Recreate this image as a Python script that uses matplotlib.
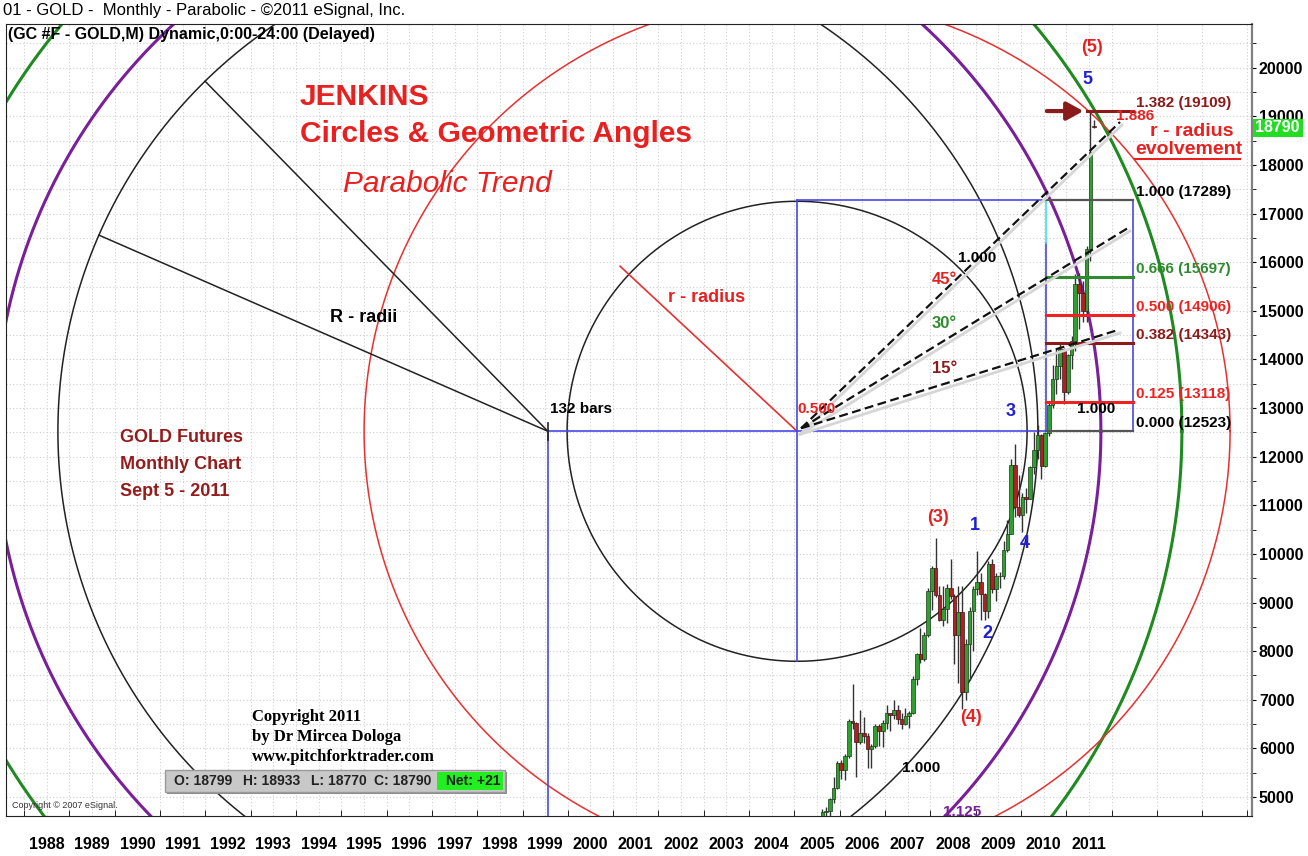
import numpy as np
import matplotlib.pyplot as plt
from matplotlib.patches import Rectangle

plt.rcParams['font.family'] = ['Liberation Sans', 'DejaVu Sans']

W, H = 1308, 856

# axis labels
years = list(range(1988, 2012))
price_ticks = list(range(5000, 20001, 1000))

# monthly gold futures (price x10), Sep 2005 .. Sep 2011
first_year, first_month = 2005, 9
opens = [4335, 4693, 4708, 4957,
         5190, 5696, 5560, 5840, 6560, 6530, 6140, 6320, 6260, 5990, 6040, 6460,
         6350, 6520, 6720, 6680, 6800, 6600, 6500, 6660, 6730, 7430, 7940, 7830,
         8340, 9230, 9710, 9160, 8650, 8870, 9300, 9140, 8330, 8800, 7170, 8140,
         8820, 9270, 9420, 9170, 8830, 9800, 9270, 9540, 9550, 10080, 10400, 11820,
         10960, 10810, 11180, 11130, 11790, 12140, 12450, 11800, 12480, 13070, 13590, 13860,
         14210, 13330, 14090, 14390, 15560, 15360, 15000, 16280, 18799]
highs = [4760, 4790, 4970, 5410,
         5750, 5760, 5880, 6600, 7320, 6550, 6800, 6650, 6320, 6100, 6500, 6500,
         6590, 6900, 6720, 6990, 6900, 6730, 6840, 6770, 7480, 7960, 8480, 8400,
         9300, 9760, 10330, 9350, 9340, 9390, 9900, 9170, 9350, 9350, 8250, 8900,
         9350, 10070, 9600, 9200, 9850, 9890, 9600, 9620, 10270, 10700, 11950, 12270,
         11620, 11250, 11350, 11800, 12500, 12660, 12470, 12500, 13140, 13880, 14240, 14310,
         14240, 14120, 14480, 15750, 15770, 15610, 16330, 19110, 18933]
lows = [4325, 4600, 4560, 4880,
        5160, 5380, 5360, 5800, 6400, 5420, 6100, 6120, 5600, 5600, 6000, 6060,
        6030, 6400, 6360, 6600, 6500, 6400, 6480, 6420, 6700, 7300, 7760, 7800,
        8300, 8850, 9120, 8620, 8510, 8570, 9070, 7740, 7350, 6810, 7000, 7400,
        8000, 9150, 8650, 8650, 8680, 9200, 9040, 9300, 9480, 10030, 10400, 10750,
        10750, 10450, 10850, 11120, 11640, 11960, 11550, 11780, 12420, 13000, 13300, 13600,
        13090, 13300, 13810, 14170, 14620, 14780, 14780, 16030, 18770]
closes = [4693, 4708, 4957, 5190,
          5696, 5560, 5840, 6560, 6530, 6140, 6320, 6260, 5990, 6040, 6460, 6350,
          6520, 6720, 6680, 6800, 6600, 6500, 6660, 6730, 7430, 7940, 7830, 8340,
          9230, 9710, 9160, 8650, 8870, 9300, 9140, 8330, 8800, 7170, 8140, 8820,
          9270, 9420, 9170, 8830, 9800, 9270, 9540, 9550, 10080, 10400, 11820, 10960,
          10810, 11180, 11130, 11790, 12140, 12450, 11800, 12480, 13070, 13590, 13860, 14210,
          13330, 14090, 14390, 15560, 15360, 15000, 16280, 18260, 18790]

# fibonacci box levels
fib_ratios = ['1.382', '1.000', '0.666', '0.500', '0.382', '0.125', '0.000']
fib_prices = [19109, 17289, 15697, 14906, 14343, 13118, 12523]
fib_colors = ['#8b1a1a', '#555555', '#2e8b2e', '#ee2222', '#8b1a1a', '#ee2222', '#555555']
fib_text_colors = ['#8b1a1a', 'black', '#2e8b2e', '#ee2222', '#8b1a1a', '#ee2222', 'black']

pivot_x = 1999.56      # start of the 132 bars
fib_x0 = 2010.56       # end of the 132 bars
fib_x1 = 2012.47
base, top = 12523, 17289
mid_x = (pivot_x + fib_x0) / 2

# axes box in pixels
L, R, T, B = 6, 1252, 24, 816
xmin, xmax = 1987.6, 2015.1
ymin, ymax = 4610, 20900

fig = plt.figure(figsize=(W / 100, H / 100), dpi=100)
ax = fig.add_axes([L / W, 1 - B / H, (R - L) / W, (B - T) / H])
ax.set_xlim(xmin, xmax)
ax.set_ylim(ymin, ymax)
sx = (R - L) / (xmax - xmin)
sy = (B - T) / (ymax - ymin)


def p2d(px, py):
    return xmin + (px - L) / sx, ymin + (B - py) / sy


def ptext(px, py, s, **kw):
    kw.setdefault('va', 'center')
    fig.text(px / W, 1 - py / H, s, **kw)


def circle(cx, cy, r, **kw):
    t = np.linspace(0, 2 * np.pi, 1000)
    ax.plot(cx + r * np.cos(t) / sx, cy + r * np.sin(t) / sy, **kw)


# grid
ax.set_xticks([y + 0.5 for y in years])
ax.set_xticks(np.arange(1988, 2015.1, 1.0), minor=True)
ax.set_xticklabels([str(y) for y in years], fontsize=11.5, fontweight='bold')
ax.set_yticks(price_ticks)
ax.set_yticks(np.arange(5500, 20501, 1000), minor=True)
ax.set_yticklabels([str(p) for p in price_ticks], fontsize=11.5, fontweight='bold')
ax.yaxis.tick_right()
ax.tick_params(axis='x', which='major', length=0, pad=15)
ax.tick_params(axis='x', which='minor', length=4, direction='in')
ax.tick_params(axis='y', which='both', length=3, pad=2)
ax.grid(True, which='both', color='#cfcfcf', linestyle=(0, (1, 2)), lw=0.8)
ax.set_axisbelow(True)
for s in ['left', 'top', 'bottom']:
    ax.spines[s].set_color('#222222')
ax.spines['right'].set_color('#808080')
ax.spines['right'].set_linewidth(1.6)

# candles
n = len(closes)
xs = np.array([first_year + (first_month - 1 + i) / 12 - 0.05 for i in range(n)])
o, h, l, c = map(np.array, (opens, highs, lows, closes))
ax.vlines(xs, l, h, color='#333333', lw=1, zorder=3)
up = c >= o
ax.bar(xs[up], (c - o)[up], bottom=o[up], width=0.08, color='#2fa02f',
       edgecolor='#1a3a1a', lw=0.5, zorder=4)
ax.bar(xs[~up], np.maximum(o - c, 20)[~up], bottom=c[~up], width=0.08, color='#b02020',
       edgecolor='#3a1a1a', lw=0.5, zorder=4)

# circles
circle(pivot_x, base, 490, color='#222222', lw=1.1, zorder=2)
circle(pivot_x, base, 553, color='#7a1f9a', lw=2.2, zorder=2)
circle(pivot_x, base, 634, color='#1f8a1f', lw=2.2, zorder=2)
circle(mid_x, base, 230, color='#222222', lw=1.1, zorder=2)
circle(mid_x, base, 433, color='#e83030', lw=1.1, zorder=2)

# R - radii and r - radius
for ang in [134.4, 156.4]:
    a = np.radians(ang)
    ax.plot([pivot_x, pivot_x + 490 * np.cos(a) / sx], [base, base + 490 * np.sin(a) / sy],
            color='#222222', lw=1.1, zorder=2)
a = np.radians(137)
ax.plot([mid_x, mid_x + 242 * np.cos(a) / sx], [base, base + 242 * np.sin(a) / sy],
        color='#e83030', lw=1.2, zorder=2)

# blue frame
blue = '#4848e8'
ax.plot([pivot_x, fib_x0], [base, base], color=blue, lw=1.2, zorder=2)
ax.plot([pivot_x, pivot_x], [ymin, base], color=blue, lw=1.2, zorder=2)
ax.plot([mid_x, mid_x], [base - 230 / sy, top], color=blue, lw=1.2, zorder=2)
ax.plot([mid_x, fib_x0], [top, top], color=blue, lw=1.2, zorder=2)
ax.plot([fib_x0, fib_x0], [base, top - 900], color=blue, lw=1.2, zorder=2)
ax.plot([fib_x0, fib_x0], [top - 900, top], color='#40e0f0', lw=1.2, zorder=2)
ax.plot([fib_x1, fib_x1], [base, top], color=blue, lw=1.2, zorder=2)
ax.plot([pivot_x, pivot_x], [base - 180, base + 180], color='#222222', lw=1.2, zorder=2)

# fib levels
for ratio, price, col in zip(fib_ratios, fib_prices, fib_colors):
    x_start = fib_x0 + 0.9 if ratio == '1.382' else fib_x0
    lw = 1.6 if col == '#555555' else 2.2
    ax.plot([x_start, fib_x1], [price, price], color=col, lw=lw, zorder=5)
for ratio, price, col in zip(fib_ratios, fib_prices, fib_text_colors):
    px = L + (fib_x1 - xmin) * sx + 3
    py = B - (price - ymin) * sy - 8
    ptext(px, py, f'{ratio} ({price})', color=col, fontsize=11, fontweight='bold')
ax.annotate('', xy=(fib_x0 + 0.88, fib_prices[0]), xytext=(fib_x0 - 0.05, fib_prices[0]),
            arrowprops=dict(arrowstyle='-|>,head_length=1.0,head_width=0.55',
                            color='#8b1a1a', lw=3), zorder=6)

# dashed angle lines from the centre
cx_px = L + (mid_x - xmin) * sx
cy_px = B - (base - ymin) * sy
for ex, ey in [(1120, 122), (1128, 228), (1118, 330)]:
    x1, y1 = p2d(cx_px + 3, cy_px + 3)
    x2, y2 = p2d(ex + 2, ey + 3)
    ax.plot([x1, x2], [y1, y2], color='#d6d6d6', lw=2, zorder=5)
    x1, y1 = p2d(cx_px + 4, cy_px - 3)
    x2, y2 = p2d(ex, ey)
    ax.plot([x1, x2], [y1, y2], color='#111111', lw=1.6, ls=(0, (4, 2)), zorder=6)

# titles
ptext(3, 11, '01 - GOLD -  Monthly - Parabolic - \u00a92011 eSignal, Inc.', fontsize=12)
ptext(8, 35, '(GC #F - GOLD,M) Dynamic,0:00-24:00 (Delayed)', fontsize=11.5, fontweight='bold')
red = '#e82020'
ptext(300, 97, 'JENKINS', color=red, fontsize=21.5, fontweight='bold')
ptext(300, 134, 'Circles & Geometric Angles', color=red, fontsize=21.5, fontweight='bold')
ptext(343, 184, 'Parabolic Trend', color=red, fontsize=21.5, style='italic')
ptext(330, 318, 'R - radii', fontsize=13, fontweight='bold')
ptext(668, 298, 'r - radius', color=red, fontsize=13, fontweight='bold')
ptext(550, 409, '132 bars', fontsize=11, fontweight='bold')
ptext(797, 409, '0.500', color=red, fontsize=11, fontweight='bold')
ptext(958, 258, '1.000', fontsize=11, fontweight='bold')
ptext(932, 279, '45\u00b0', color=red, fontsize=12, fontweight='bold')
ptext(932, 324, '30\u00b0', color='#2e8b2e', fontsize=12, fontweight='bold')
ptext(932, 368, '15\u00b0', color='#8b1a1a', fontsize=12, fontweight='bold')
ptext(1077, 409, '1.000', fontsize=11, fontweight='bold')
ptext(902, 768, '1.000', fontsize=11, fontweight='bold')
ptext(943, 812, '1.125', color='#7a1f9a', fontsize=11, fontweight='bold')
ptext(1150, 131, 'r - radius', color=red, fontsize=14, fontweight='bold')
ptext(1135, 150, 'evolvement', color=red, fontsize=14, fontweight='bold')
ax.plot(*zip(p2d(1135, 159), p2d(1240, 159)), color=red, lw=1.5, zorder=6)
ptext(1116, 116, '1.886', color=red, fontsize=11, fontweight='bold')

dark_red = '#961c1c'
for i, s in enumerate(['GOLD Futures', 'Monthly Chart', 'Sept 5 - 2011']):
    ptext(120, 438 + i * 26.5, s, color=dark_red, fontsize=13, fontweight='bold')

for s, px, py, col in [('(5)', 1092, 47, red), ('5', 1087, 80, '#2020d0'),
                       ('(3)', 938, 518, red), ('1', 975, 526, '#2020d0'),
                       ('2', 987, 633, '#2020d0'), ('4', 1025, 544, '#2020d0'),
                       ('(4)', 971, 718, red), ('3', 1011, 412, '#2020d0')]:
    ptext(px, py, s, color=col, fontsize=13, fontweight='bold', ha='center')

for i, s in enumerate(['Copyright 2011', 'by Dr Mircea Dologa', 'www.pitchforktrader.com']):
    ptext(252, 717 + i * 20, s, family='Liberation Serif', fontsize=12, fontweight='bold')

# OHLC status box
fig.add_artist(Rectangle((167 / W, 1 - 794 / H), 340 / W, 22 / H, transform=fig.transFigure,
                         facecolor='#8a8a8a', edgecolor='none'))
fig.add_artist(Rectangle((165 / W, 1 - 792 / H), 340 / W, 22 / H, transform=fig.transFigure,
                         facecolor='#c8c8c8', edgecolor='#9a9a9a', lw=1))
fig.add_artist(Rectangle((437 / W, 1 - 790 / H), 66 / W, 18 / H, transform=fig.transFigure,
                         facecolor='#22ee22', edgecolor='none'))
for s, px in [('O: 18799', 174), ('H: 18933', 243), ('L: 18770', 311), ('C: 18790', 374),
              ('Net: +21', 446)]:
    ptext(px, 781, s, fontsize=10, fontweight='bold', color='#222222')
ptext(12, 806, 'Copyright \u00a9 2007 eSignal.', fontsize=6.5, color='#333333')

# last price tag
fig.add_artist(Rectangle((1253 / W, 1 - 137 / H), 50 / W, 18 / H, transform=fig.transFigure,
                         facecolor='#22dd22', edgecolor='none'))
ptext(1255, 128, str(closes[-1]), fontsize=11.5, fontweight='bold', color='white')

fig.savefig('out.png', dpi=100)
